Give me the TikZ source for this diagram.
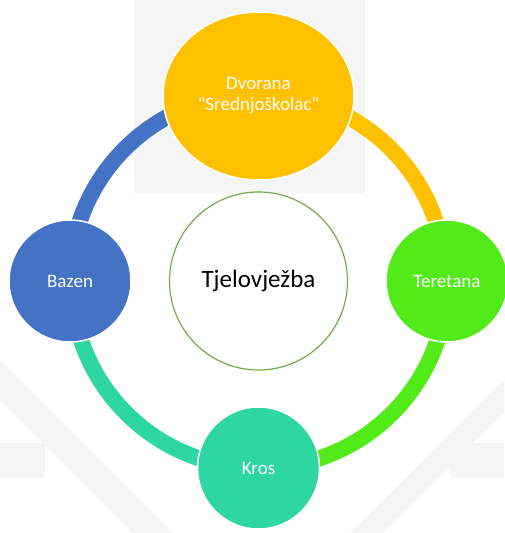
\documentclass[tikz,border=0pt]{standalone}
\usepackage{xcolor}
\usepackage{fontspec}
\setmainfont{Carlito}[Ligatures=TeXOff]
\usepackage{tikz}
\usetikzlibrary{shapes.geometric,backgrounds}

\definecolor{zuta}{HTML}{FFC000}
\definecolor{plava}{HTML}{4472C4}
\definecolor{zelena}{HTML}{53EA1A}
\definecolor{tirkiz}{HTML}{2ED6A2}
\definecolor{obrub}{HTML}{70AD47}
\definecolor{pozadina}{HTML}{F5F5F5}

\begin{document}
\begin{tikzpicture}[x=1pt,y=1pt,
  krug/.style={circle,draw=white,line width=1.5pt,minimum size=122pt,inner sep=0pt,
    text=white,font=\fontsize{19}{21}\selectfont,align=center},
  luk/.style={line width=16pt}]
  \useasboundingbox (0,0) rectangle (504,533);

  \node[ellipse,draw=white,line width=1.5pt,fill=zuta,minimum width=191pt,minimum height=168pt,
    inner sep=0pt,text=white,font=\fontsize{19}{21}\selectfont,align=center]
    (dvorana) at (258.5,437) {Dvorana\\"Srednjoškolac"};
  \node[krug,fill=plava]  (bazen)    at (70,252)    {Bazen};
  \node[krug,fill=zelena] (teretana) at (447,252)   {Teretana};
  \node[krug,fill=tirkiz] (kros)     at (258.5,65)  {Kros};
  \node[circle,draw=obrub,line width=1.2pt,fill=white,minimum size=178pt,inner sep=0pt,
    font=\fontsize{25}{28}\selectfont] (tjelovjezba) at (258.5,252) {Tjelovježba};

  \begin{scope}[on background layer]
    \fill[pozadina] (134,533) rectangle (365,340);
    \fill[pozadina] (0,55) rectangle (45,90);
    \fill[pozadina] (0,133) -- (0,173) -- (173,0) -- (133,0) -- cycle;
    \fill[pozadina] (450,55) rectangle (504,90);
    \fill[pozadina] (504,153) -- (504,121) -- (382,0) -- (350,0) -- cycle;
    \draw[luk,plava]  (bazen.center)    arc[start angle=180,end angle=90,radius=187];
    \draw[luk,zuta]   (dvorana.center)  ++(0,2) arc[start angle=90,end angle=0,radius=187];
    \draw[luk,zelena] (teretana.center) arc[start angle=0,end angle=-90,radius=187];
    \draw[luk,tirkiz] (kros.center)     arc[start angle=270,end angle=180,radius=187];
  \end{scope}
\end{tikzpicture}
\end{document}
